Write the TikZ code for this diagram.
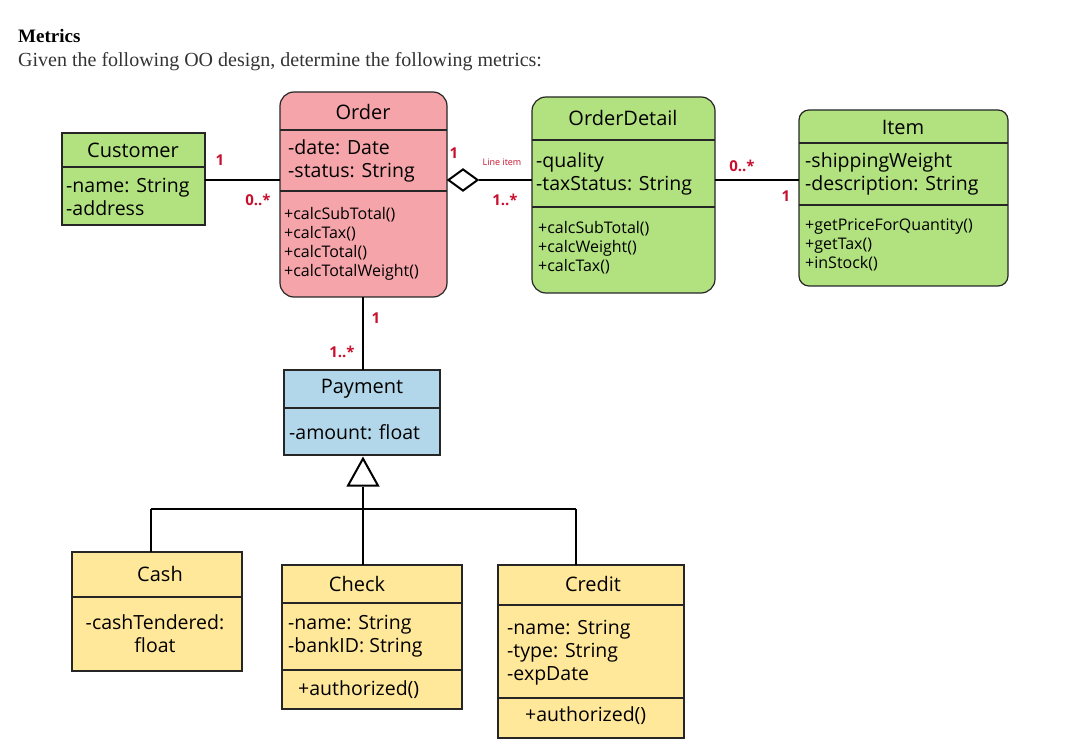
\documentclass[tikz,border=0pt]{standalone}
\usepackage{fontspec}
\setmainfont{Liberation Serif}
\newfontfamily\uml{Open Sans}
\usetikzlibrary{shapes.geometric}
\definecolor{pinkc}{HTML}{F5A5AA}
\definecolor{greenc}{HTML}{B2E27F}
\definecolor{bluec}{HTML}{B3D7EA}
\definecolor{yellowc}{HTML}{FFE89A}
\definecolor{redc}{HTML}{C8102E}
\begin{document}
\begin{tikzpicture}[x=1pt,y=-1pt,
  box/.style={draw=black!85,line width=1.2pt},
  sep/.style={draw=black!85,line width=1.2pt},
  conn/.style={line width=2.2pt},
  hd/.style={font=\uml\fontsize{20}{22}\selectfont,anchor=center,inner sep=0},
  attr/.style={font=\uml\fontsize{19.5}{23}\selectfont,anchor=west,inner sep=0,align=left},
  me/.style={font=\uml\fontsize{16}{19}\selectfont,anchor=west,inner sep=0,align=left},
  mul/.style={font=\uml\bfseries\fontsize{15}{17}\selectfont,text=redc,inner sep=0}]
\useasboundingbox (0,0) rectangle (1072,751);
\node[anchor=west,font=\bfseries\fontsize{19}{22}\selectfont,inner sep=0] (t1) at (18,36) {Metrics};
\node[anchor=west,font=\fontsize{20}{22}\selectfont,text=black!80,inner sep=0] (t2) at (18,62) {Given the following OO design, determine the following metrics:};

% Customer
\fill[greenc] (62,133) rectangle (205,225);
\draw[box] (62,133) rectangle (205,225);
\draw[sep] (62,167) -- (205,167);
\node[hd] (cust) at (133,150) {Customer};
\node[attr] (custa) at (66,197) {-name: String\\-address};
% Order
\draw[box,fill=pinkc,rounded corners=14pt] (280,92) rectangle (447,297);
\draw[sep] (280,130) -- (447,130);
\draw[sep] (280,191) -- (447,191);
\node[hd] (ord) at (363,112) {Order};
\node[attr] (orda) at (288,161) {-date: Date\\-status: String};
\node[me] (ordm) at (284,244) {+calcSubTotal()\\+calcTax()\\+calcTotal()\\+calcTotalWeight()};
% OrderDetail
\draw[box,fill=greenc,rounded corners=14pt] (532,97) rectangle (715,293);
\draw[sep] (532,140) -- (715,140);
\draw[sep] (532,207) -- (715,207);
\node[hd] (od) at (623,118) {OrderDetail};
\node[attr] (oda) at (536,174) {-quality\\-taxStatus: String};
\node[me] (odm) at (538,248) {+calcSubTotal()\\+calcWeight()\\+calcTax()};
% Item
\draw[box,fill=greenc,rounded corners=10pt] (799,110) rectangle (1008,286);
\draw[sep] (799,143) -- (1008,143);
\draw[sep] (799,205) -- (1008,205);
\node[hd] (item) at (903,127) {Item};
\node[attr] (itema) at (805,174) {-shippingWeight\\-description: String};
\node[me] (itemm) at (805,245) {+getPriceForQuantity()\\+getTax()\\+inStock()};
% Payment
\fill[bluec] (284,370) rectangle (440,455);
\draw[box] (284,370) rectangle (440,455);
\draw[sep] (284,408) -- (440,408);
\node[hd] (pay) at (362,389) {Payment};
\node[attr] (paya) at (289,432) {-amount: float};
% Cash
\fill[yellowc] (72,552) rectangle (242,671);
\draw[box] (72,552) rectangle (242,671);
\draw[sep] (72,597) -- (242,597);
\node[hd] (cash) at (160,574) {Cash};
\node[attr,align=center,anchor=center] (casha) at (155,634) {-cashTendered:\\float};
% Check
\fill[yellowc] (282,565) rectangle (462,709);
\draw[box] (282,565) rectangle (462,709);
\draw[sep] (282,603) -- (462,603);
\draw[sep] (282,670) -- (462,670);
\node[hd] (check) at (357,584) {Check};
\node[attr] (checka) at (288,636) {-name: String\\-bankID: String};
\node[attr] (checkm) at (298,690) {+authorized()};
% Credit
\fill[yellowc] (498,565) rectangle (684,738);
\draw[box] (498,565) rectangle (684,738);
\draw[sep] (498,605) -- (684,605);
\draw[sep] (498,698) -- (684,698);
\node[hd] (credit) at (593,584) {Credit};
\node[attr] (credita) at (507,653) {-name: String\\-type: String\\-expDate};
\node[attr] (creditm) at (525,716) {+authorized()};

% connectors
\coordinate (c1) at (205,180); \coordinate (c2) at (280,180);
\draw[conn] (c1) -- (c2);
\node[draw,line width=2pt,fill=white,diamond,minimum width=30pt,minimum height=22pt,inner sep=0,anchor=west] (dia) at (447,180) {};
\coordinate (c3) at (532,180);
\draw[conn] (dia.east) -- (c3);
\coordinate (c4) at (715,180); \coordinate (c5) at (799,180);
\draw[conn] (c4) -- (c5);
\coordinate (c6) at (363,297); \coordinate (c7) at (363,370);
\draw[conn] (c6) -- (c7);
\node[draw,line width=2pt,fill=white,isosceles triangle,shape border rotate=90,minimum width=30pt,minimum height=27pt,isosceles triangle stretches,inner sep=0,anchor=apex] (tri) at (363,456) {};
\coordinate (j) at (363,509);
\coordinate (jl) at (151,509); \coordinate (jr) at (576,509);
\draw[conn] (tri.south) -- (j);
\draw[conn] (jl) -- (jr);
\draw[conn] (jl) -- (151,552);
\draw[conn] (j) -- (363,565);
\draw[conn] (jr) -- (576,565);

\node[mul] (m1) at (220,160) {1};
\node[mul] (m2) at (258,200) {0..*};
\node[mul] (m3) at (454,153) {1};
\node[font=\uml\fontsize{9}{10}\selectfont,text=redc,inner sep=0] (li) at (502,162) {Line item};
\node[mul] (m4) at (505,200) {1..*};
\node[mul] (m5) at (742,166) {0..*};
\node[mul] (m6) at (786,196) {1};
\node[mul] (m7) at (376,318) {1};
\node[mul] (m8) at (342,352) {1..*};
\end{tikzpicture}
\end{document}
